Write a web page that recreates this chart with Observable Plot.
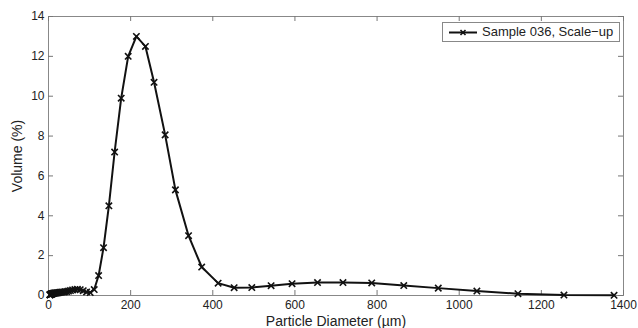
<!DOCTYPE html>
<html>
<head>
<meta charset="utf-8">
<script src="https://cdn.jsdelivr.net/npm/d3@7"></script>
<script src="https://cdn.jsdelivr.net/npm/@observablehq/plot@0.6"></script>
<style>
  body { margin: 0; background: #fff; }
  #wrap { position: relative; width: 638px; height: 328px; font-family: "Liberation Sans", Arial, sans-serif; }
  #legend { position: absolute; left: 442px; top: 22px; width: 178px; height: 20px; border: 1px solid #888; background: #fff; box-sizing: border-box; }
  #legend svg { position: absolute; left: 0; top: 0; }
  #legend span { position: absolute; left: 39px; top: 1px; font-size: 13px; color: #222; white-space: nowrap; }
</style>
</head>
<body>
<div id="wrap"></div>
<script>
// Particle diameter (µm) and volume (%) values
const diameter = [
  3.4, 3.7, 4.1, 4.5, 4.9, 5.4, 5.9, 6.5, 7.1, 7.8, 8.5, 9.4, 10.3, 11.2, 12.3, 13.5, 14.8, 16.2, 17.8, 19.5,
  21.4, 23.4, 25.7, 28.2, 30.9, 33.8, 37.1, 40.6, 44.5, 48.8, 53.5, 58.6, 64.3, 70.4, 77.2, 84.6, 92.7, 101.6, 111.3,
  122, 134, 147, 161, 177, 194, 214, 236, 257, 284, 309, 341, 373, 413, 452, 495, 542, 593, 655, 717, 787, 865,
  949, 1043, 1143, 1255, 1377
];
const volume = [
  0.03, 0.04, 0.04, 0.05, 0.05, 0.06, 0.06, 0.07, 0.07, 0.08, 0.08, 0.09, 0.10, 0.10, 0.11, 0.11, 0.12, 0.12, 0.13, 0.13,
  0.14, 0.14, 0.15, 0.16, 0.16, 0.17, 0.18, 0.19, 0.20, 0.22, 0.25, 0.28, 0.30, 0.31, 0.29, 0.24, 0.18, 0.15, 0.30,
  1.0, 2.4, 4.5, 7.2, 9.9, 12.0, 13.0, 12.5, 10.7, 8.06, 5.3, 3.0, 1.43, 0.62, 0.39, 0.40, 0.49, 0.59, 0.65, 0.65, 0.63, 0.50,
  0.37, 0.22, 0.09, 0.02, 0.01
];
const seriesName = "Sample 036, Scale-up";
const xTicks = [0, 200, 400, 600, 800, 1000, 1200, 1400];
const yTicks = [0, 2, 4, 6, 8, 10, 12, 14];

const data = diameter.map((d, i) => ({d, v: volume[i]}));
const tickColor = "#777";

const chart = Plot.plot({
  width: 638,
  height: 328,
  marginLeft: 48,
  marginRight: 15,
  marginTop: 16,
  marginBottom: 33,
  style: {fontFamily: "Liberation Sans, Arial, sans-serif", fontSize: "12px", color: "#222", background: "#fff"},
  x: {domain: [0, 1400]},
  y: {domain: [0, 14]},
  marks: [
    Plot.frame({stroke: "#888", strokeWidth: 1}),
    Plot.axisX(xTicks, {tickSize: 0, tickPadding: 5, fontSize: 12, tickFormat: d => String(d), label: "Particle Diameter (µm)", labelAnchor: "center", labelOffset: 30, labelArrow: "none"}),
    Plot.axisY(yTicks, {tickSize: 0, tickPadding: 4, fontSize: 12, tickFormat: d => String(d), label: "Volume (%)", labelAnchor: "center", labelOffset: 36, labelArrow: "none"}),
    // inward ticks on all four sides
    Plot.ruleX(xTicks, {x: d => d, y1: 0, y2: 0, insetTop: -5, stroke: tickColor}),
    Plot.ruleX(xTicks, {x: d => d, y1: 14, y2: 14, insetBottom: -5, stroke: tickColor}),
    Plot.ruleY(yTicks, {y: d => d, x1: 0, x2: 0, insetRight: -5, stroke: tickColor}),
    Plot.ruleY(yTicks, {y: d => d, x1: 1400, x2: 1400, insetLeft: -5, stroke: tickColor}),
    Plot.line(data, {x: "d", y: "v", stroke: "#111", strokeWidth: 2}),
    Plot.dot(data, {x: "d", y: "v", symbol: "times", r: 3, stroke: "#111", strokeWidth: 1.6})
  ]
});
chart.querySelectorAll('[aria-label="x-axis label"] text, [aria-label="y-axis label"] text').forEach(t => t.setAttribute("font-size", "14px"));

const wrap = document.getElementById("wrap");
wrap.appendChild(chart);
const legend = document.createElement("div");
legend.id = "legend";
legend.innerHTML = `<svg width="40" height="20"><line x1="6" x2="34" y1="9.5" y2="9.5" stroke="#111" stroke-width="2"/><path d="M17.5,7 L22.5,12 M22.5,7 L17.5,12" stroke="#111" stroke-width="1.6"/></svg><span>${seriesName.replace("-", "−")}</span>`;
wrap.appendChild(legend);
</script>
</body>
</html>
